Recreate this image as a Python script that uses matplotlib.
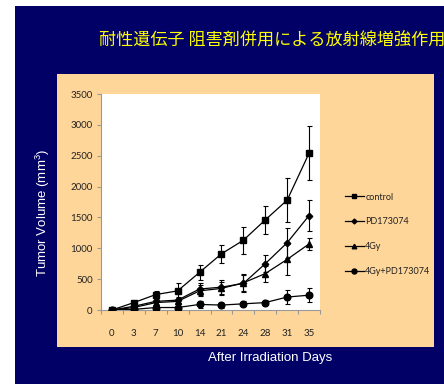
import matplotlib
matplotlib.use("Agg")
import matplotlib.pyplot as plt
from matplotlib.patches import Rectangle
import numpy as np

days = ["0", "3", "7", "10", "14", "21", "24", "28", "31", "35"]

control = [0, 120, 250, 310, 610, 910, 1130, 1460, 1780, 2540]
control_err = [0, 30, 60, 130, 120, 150, 220, 230, 360, 440]

pd173074 = [0, 60, 140, 160, 340, 370, 430, 750, 1090, 1530]
pd173074_err = [0, 20, 40, 50, 100, 110, 140, 140, 240, 255]

gy4 = [0, 40, 120, 140, 310, 350, 440, 590, 820, 1070]
gy4_err = [0, 15, 40, 50, 90, 100, 140, 130, 250, 90]

combo = [0, 10, 40, 40, 90, 80, 100, 120, 210, 240]
combo_err = [0, 10, 20, 20, 50, 40, 40, 40, 110, 115]

series = [
    ("control", control, control_err, "s", 4.8),
    ("PD173074", pd173074, pd173074_err, "D", 3.3),
    ("4Gy", gy4, gy4_err, "^", 4.4),
    ("4Gy+PD173074", combo, combo_err, "o", 4.8),
]

title = "耐性遺伝子 阻害剤併用による放射線増強作用"

plt.rcParams['mathtext.fontset'] = 'custom'
plt.rcParams['mathtext.rm'] = 'Liberation Sans'
plt.rcParams['mathtext.it'] = 'Liberation Sans'

W, H = 444, 384
fig = plt.figure(figsize=(W / 100, H / 100), dpi=100, facecolor="white")

navy = "#000066"
peach = "#FFD699"
fig.patches.append(Rectangle((15 / W, 0), 1 - 15 / W, (H - 6) / H,
                             transform=fig.transFigure, facecolor=navy,
                             edgecolor="none", zorder=-2))
fig.patches.append(Rectangle((57 / W, (H - 347) / H), 377 / W, 273 / H,
                             transform=fig.transFigure, facecolor=peach,
                             edgecolor="none", zorder=-1))

ax = fig.add_axes([101 / W, (H - 310) / H, 219 / W, 216 / H])
ax.set_facecolor("white")

x = np.arange(len(days))
handles = []
for name, vals, err, mk, ms in series:
    ax.errorbar(x, vals, yerr=err, fmt="none", ecolor="black",
                elinewidth=0.8, capsize=1.8, capthick=0.8, zorder=2)
    h, = ax.plot(x, vals, color="black", lw=0.9, marker=mk, ms=ms,
                 markerfacecolor="black", markeredgecolor="black", zorder=3,
                 label=name)
    handles.append(h)

ax.set_xlim(-0.5, len(days) - 0.5)
ax.set_ylim(0, 3500)
ax.set_yticks(np.arange(0, 3501, 500))
ax.set_xticks(x)
ax.set_xticklabels(days)
ax.set_xticks(np.arange(-0.5, len(days), 1), minor=True)

for s in ["top", "right"]:
    ax.spines[s].set_visible(False)
for s in ["left", "bottom"]:
    ax.spines[s].set_color("#999999")
    ax.spines[s].set_linewidth(0.8)

ax.tick_params(axis="y", direction="out", length=3, width=0.8, color="#999999",
               pad=3, labelsize=7, labelcolor="#222222")
ax.tick_params(axis="x", which="major", length=0, pad=14, labelsize=7,
               labelcolor="#222222")
ax.tick_params(axis="x", which="minor", direction="out", length=3, width=0.8,
               color="#999999")
for lab in ax.get_xticklabels() + ax.get_yticklabels():
    lab.set_fontfamily("Lato")

leg = fig.legend(handles=handles, loc="upper left",
                 bbox_to_anchor=(340 / W, 1 - 188 / H), frameon=False,
                 prop={"family": "Lato", "size": 6.5}, labelspacing=1.75,
                 handlelength=2.2, handletextpad=0.1, markerscale=0.75,
                 borderpad=0)
for t in leg.get_texts():
    t.set_color("#222222")

fig.text(99 / W, 1 - 41 / H, title, color="#FFFF00", fontsize=12.3,
         family=["Noto Sans CJK JP", "DejaVu Sans"], ha="left", va="center")

fig.text(270 / W, 1 - 358 / H, "After Irradiation Days", color="white",
         fontsize=9.5, family="Liberation Sans", ha="center", va="center")
fig.text(43 / W, 1 - 213 / H, "Tumor Volume (mm$^3$)", color="white",
         fontsize=9.5, family="Liberation Sans", ha="center", va="center",
         rotation=90)

fig.savefig("out.png", dpi=100, facecolor=fig.get_facecolor())
